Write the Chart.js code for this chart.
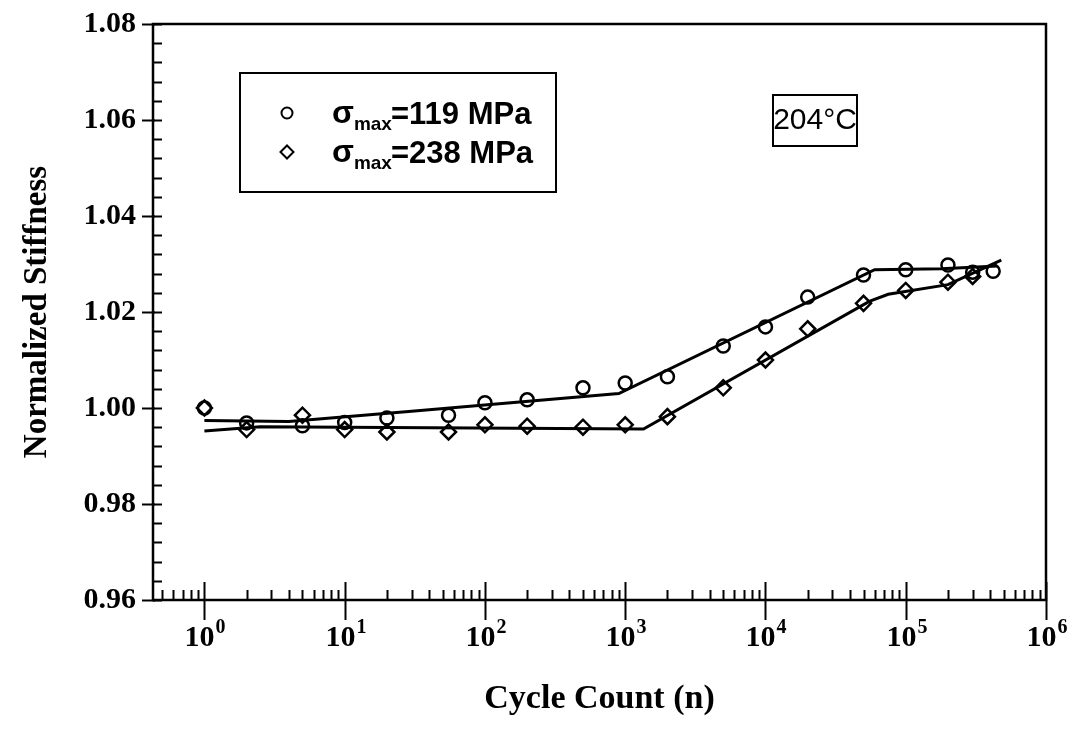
<!DOCTYPE html>
<html>
<head>
<meta charset="utf-8">
<title>Normalized Stiffness vs Cycle Count</title>
<script src="https://cdn.jsdelivr.net/npm/chart.js@4.4.1/dist/chart.umd.min.js"></script>
<style>
    html, body { margin: 0; padding: 0; background: #fff; }
    #wrap { width: 1073px; height: 740px; }
</style>
</head>
<body>
<div id="wrap"><canvas id="stiffnessChart" width="1073" height="740"></canvas></div>
<script>
const cycles119 = [1, 2, 5, 10, 20, 55, 100, 200, 500, 1000, 2000, 5000, 10000, 20000, 50000, 100000, 200000, 300000, 420000];
const stiff119  = [1.000, 0.9969, 0.9963, 0.9970, 0.9979, 0.9985, 1.0011, 1.0017, 1.0042, 1.0052, 1.0065, 1.0129, 1.0169, 1.0231, 1.0277, 1.0288, 1.0298, 1.0283, 1.0285];

const cycles238 = [1, 2, 5, 10, 20, 55, 100, 200, 500, 1000, 2000, 5000, 10000, 20000, 50000, 100000, 200000, 300000];
const stiff238  = [1.000, 0.9955, 0.9985, 0.9955, 0.9950, 0.9950, 0.9965, 0.9962, 0.9960, 0.9965, 0.9982, 1.0042, 1.0100, 1.0165, 1.0218, 1.0245, 1.0262, 1.0274];

// hand-drawn fit lines
const fitCycles119 = [1, 4, 30, 900, 60000, 180000, 450000];
const fitStiff119  = [0.9974, 0.9972, 0.9993, 1.0030, 1.0288, 1.0290, 1.0296];
const fitCycles238 = [1, 2.5, 1350, 55000, 75000, 200000, 480000];
const fitStiff238  = [0.9952, 0.9961, 0.9956, 1.0222, 1.0237, 1.0257, 1.0308];

// axes
const xExponents = [0, 1, 2, 3, 4, 5, 6];
const xMinorMantissas = [2, 3, 4, 5, 6, 7, 8, 9];
const yMin = 0.96, yMax = 1.08, yMajorStep = 0.02, yMinorStep = 0.004;

const legendLabels = ['=119 MPa', '=238 MPa'];
const tempLabel = '204\u00B0C';

const SERIF = '"Liberation Serif", "Times New Roman", serif';
const SANS = '"Liberation Sans", Arial, sans-serif';

function toPoints(xs, ys) {
    return xs.map((x, i) => ({ x: x, y: ys[i] }));
}

// frame, tick marks, x labels with superscripts, legend and temperature box
const decorations = {
    id: 'decorations',
    afterDraw(chart) {
        const { ctx, chartArea: a, scales: { x, y } } = chart;
        ctx.save();
        ctx.strokeStyle = '#000';
        ctx.fillStyle = '#000';
        ctx.lineCap = 'butt';

        // y ticks
        ctx.lineWidth = 2;
        const nMinor = Math.round((yMax - yMin) / yMinorStep);
        for (let i = 0; i <= nMinor; i++) {
            const py = Math.round(y.getPixelForValue(yMin + i * yMinorStep)) + 0.5;
            ctx.beginPath();
            ctx.moveTo(a.left, py);
            ctx.lineTo(a.left + 9, py);
            ctx.stroke();
        }
        const nMajor = Math.round((yMax - yMin) / yMajorStep);
        for (let i = 0; i <= nMajor; i++) {
            const py = Math.round(y.getPixelForValue(yMin + i * yMajorStep)) + 0.5;
            ctx.beginPath();
            ctx.moveTo(a.left - 11, py);
            ctx.lineTo(a.left + 2, py);
            ctx.stroke();
        }

        // x minor ticks
        for (let e = -1; e < 6; e++) {
            xMinorMantissas.forEach(m => {
                const v = m * Math.pow(10, e);
                if (v < x.min) return;
                const px = Math.round(x.getPixelForValue(v)) + 0.5;
                ctx.beginPath();
                ctx.moveTo(px, a.bottom);
                ctx.lineTo(px, a.bottom - 10);
                ctx.stroke();
            });
        }
        // x major ticks and labels
        xExponents.forEach(e => {
            const px = Math.round(x.getPixelForValue(Math.pow(10, e))) + 0.5;
            ctx.beginPath();
            ctx.moveTo(px, a.bottom - 18);
            ctx.lineTo(px, a.bottom + 20);
            ctx.stroke();

            ctx.font = 'bold 30px ' + SERIF;
            const base = '10';
            const bw = ctx.measureText(base).width;
            ctx.font = 'bold 20px ' + SERIF;
            const ew = ctx.measureText(String(e)).width;
            const left = px - (bw + ew) / 2;
            ctx.textBaseline = 'alphabetic';
            ctx.textAlign = 'left';
            ctx.font = 'bold 30px ' + SERIF;
            ctx.fillText(base, left, a.bottom + 46);
            ctx.font = 'bold 20px ' + SERIF;
            ctx.fillText(String(e), left + bw + 1, a.bottom + 33);
        });

        // frame
        ctx.lineWidth = 2.5;
        ctx.strokeRect(a.left, a.top, a.right - a.left, a.bottom - a.top);

        // legend box
        ctx.lineWidth = 2;
        ctx.strokeRect(240, 73, 316, 119);
        const rows = [
            { style: 'circle', y: 113 },
            { style: 'rectRot', y: 152 }
        ];
        rows.forEach((r, i) => {
            ctx.fillStyle = '#fff';
            Chart.helpers.drawPoint(ctx, {
                pointStyle: r.style, radius: r.style === 'circle' ? 5.5 : 6.5,
                borderWidth: 2.5, rotation: 0
            }, 287, r.y);
            ctx.fillStyle = '#000';
            ctx.textAlign = 'left';
            ctx.textBaseline = 'alphabetic';
            let tx = 332;
            ctx.font = 'bold 32px ' + SANS;
            ctx.fillText('\u03C3', tx, r.y + 10);
            tx += ctx.measureText('\u03C3').width;
            ctx.font = 'bold 19px ' + SANS;
            ctx.fillText('max', tx, r.y + 17);
            tx += ctx.measureText('max').width - 1;
            ctx.font = 'bold 31px ' + SANS;
            ctx.fillText(legendLabels[i], tx, r.y + 11);
        });

        // temperature box
        ctx.lineWidth = 2;
        ctx.strokeRect(773, 95, 84, 51);
        ctx.font = '30px ' + SANS;
        ctx.textAlign = 'center';
        ctx.textBaseline = 'middle';
        ctx.fillText(tempLabel, 815, 121);

        ctx.restore();
    }
};

function initChart() {
    const markerStyle = {
        showLine: false,
        borderColor: '#000',
        backgroundColor: 'rgba(0,0,0,0)',
        pointBorderWidth: 2.5
    };
    const lineStyle = {
        showLine: true,
        borderColor: '#000',
        borderWidth: 3,
        pointRadius: 0,
        tension: 0
    };

    new Chart(document.getElementById('stiffnessChart'), {
        type: 'scatter',
        data: {
            datasets: [
                { label: 'fit 119', data: toPoints(fitCycles119, fitStiff119), ...lineStyle },
                { label: 'fit 238', data: toPoints(fitCycles238, fitStiff238), ...lineStyle },
                { label: '\u03C3max=119 MPa', data: toPoints(cycles119, stiff119), pointStyle: 'circle', pointRadius: 6.5, ...markerStyle },
                { label: '\u03C3max=238 MPa', data: toPoints(cycles238, stiff238), pointStyle: 'rectRot', pointRadius: 7.5, ...markerStyle }
            ]
        },
        options: {
            responsive: false,
            animation: false,
            devicePixelRatio: 1,
            layout: { padding: { top: 24, right: 27, left: 0, bottom: 0 } },
            plugins: {
                legend: { display: false },
                tooltip: { enabled: false }
            },
            scales: {
                x: {
                    type: 'logarithmic',
                    min: 0.43,
                    max: 1e6,
                    grid: { drawOnChartArea: false, drawTicks: false },
                    border: { display: false },
                    ticks: { display: false },
                    title: {
                        display: true,
                        text: 'Cycle Count (n)',
                        color: '#000',
                        font: { family: SERIF, size: 34, weight: 'bold' },
                        padding: { top: 0, bottom: 20 }
                    },
                    afterFit: (scale) => {
                        scale.height = 140;
                        scale.paddingLeft = 0;
                        scale.paddingRight = 0;
                    }
                },
                y: {
                    min: yMin,
                    max: yMax,
                    grid: { drawOnChartArea: false, drawTicks: false },
                    border: { display: false },
                    ticks: {
                        stepSize: yMajorStep,
                        color: '#000',
                        padding: 17,
                        font: { family: SERIF, size: 30, weight: 'bold' },
                        callback: (v) => v.toFixed(2)
                    },
                    title: {
                        display: true,
                        text: 'Normalized Stiffness',
                        color: '#000',
                        font: { family: SERIF, size: 33, weight: 'bold' },
                        padding: { top: 18, bottom: 0 }
                    },
                    afterFit: (scale) => {
                        scale.width = 153;
                        scale.paddingTop = 0;
                        scale.paddingBottom = 0;
                    }
                }
            }
        },
        plugins: [decorations]
    });
}

initChart();
</script>
</body>
</html>
